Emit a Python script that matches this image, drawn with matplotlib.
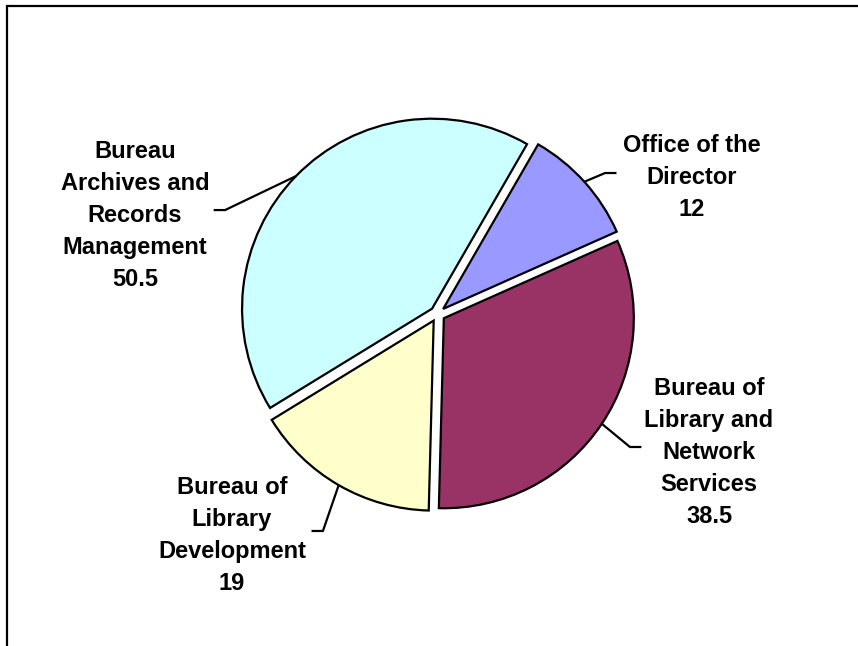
import numpy as np
import matplotlib
matplotlib.use("Agg")
import matplotlib.pyplot as plt
from matplotlib.patches import Rectangle

# data
categories = ["Office of the\nDirector",
              "Bureau of\nLibrary and\nNetwork\nServices",
              "Bureau of\nLibrary\nDevelopment",
              "Bureau\nArchives and\nRecords\nManagement"]
values = [12, 38.5, 19, 50.5]
colors = ["#9999FF", "#993366", "#FFFFCC", "#CCFFFF"]

# label layout (pie radius units)
label_pos = [(1.339, 0.716), (1.429, -0.729), (-1.082, -1.168), (-1.592, 0.518)]
elbow_pos = [(0.882, 0.742), (1.013, -0.700), (-0.603, -1.142), (-1.118, 0.547)]

W, H = 858, 646
cx, cy, R = 437.5, 314, 190.0

fig = plt.figure(figsize=(W / 100, H / 100), dpi=100)
ax = fig.add_axes([0, 0, 1, 1])

wedges, _ = ax.pie(values, colors=colors, startangle=60, counterclock=False,
                   explode=[0.04] * 4, radius=1.0, frame=True,
                   wedgeprops=dict(edgecolor="black", linewidth=1.6))
ax.set_xlim(-cx / R, (W - cx) / R)
ax.set_ylim(-(H - cy) / R, cy / R)
ax.set_aspect("auto")
ax.axis("off")

for w, cat, val, lp, ep in zip(wedges, categories, values, label_pos, elbow_pos):
    mid = np.deg2rad((w.theta1 + w.theta2) / 2)
    ax0 = w.center[0] + w.r * np.cos(mid)
    ay0 = w.center[1] + w.r * np.sin(mid)
    side = 1 if lp[0] > ep[0] else -1
    ax.plot([ax0, ep[0], ep[0] + side * 0.06], [ay0, ep[1], ep[1]],
            color="black", lw=1.6, solid_capstyle="butt")
    ax.text(lp[0], lp[1], f"{cat}\n{val:g}", ha="center", va="center",
            multialignment="center", fontsize=17, fontweight="bold",
            family="Liberation Sans", linespacing=1.5)

fig.patches.append(Rectangle((6.5 / W, -0.5), 2, 1.5 - 6.5 / H, transform=fig.transFigure,
                             fill=False, edgecolor="black", lw=1.6))

fig.savefig("out.png", dpi=100, facecolor="white")
